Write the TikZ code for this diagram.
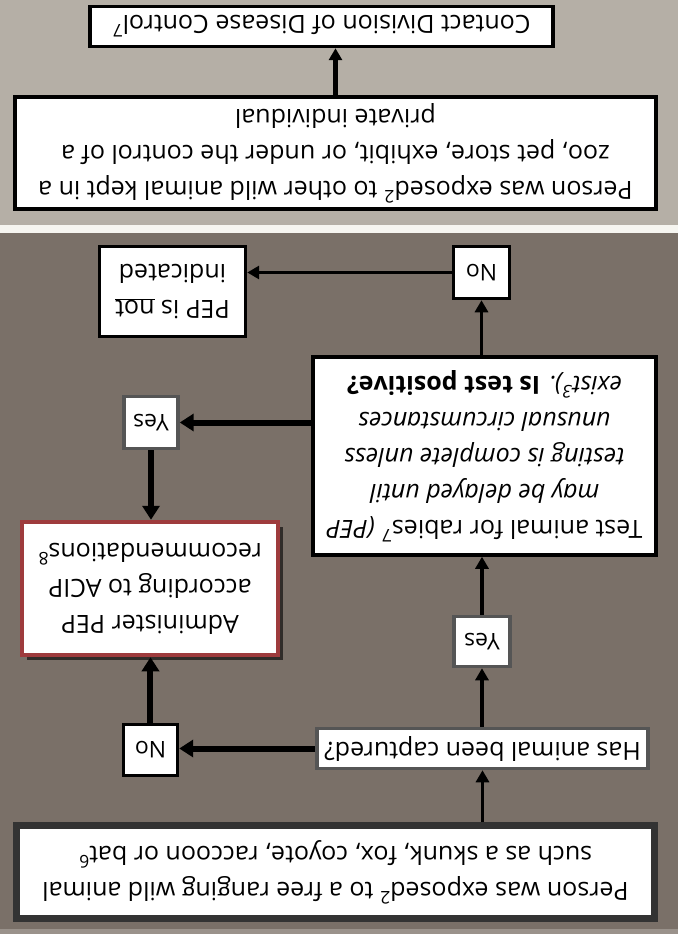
\documentclass[tikz,border=0pt]{standalone}
\usepackage{fontspec}
\setmainfont{Open Sans}
\usetikzlibrary{arrows.meta,shadows}
\definecolor{bandlight}{HTML}{B5AFA6}
\definecolor{banddark}{HTML}{7A7068}
\definecolor{bandstrip}{HTML}{F6F5F0}
\definecolor{bandfoot}{HTML}{9A928B}
\definecolor{boxgray}{HTML}{555555}
\definecolor{boxdark}{HTML}{333333}
\definecolor{pepred}{HTML}{9E3B3D}

\begin{document}
\begin{tikzpicture}[x=1pt,y=1pt,rotate=180,transform shape,
    every node/.style={fill=white,align=center,inner sep=2pt,font=\fontsize{25}{36}\selectfont},
    blackbox/.style={draw=black,line width=3.5pt},
    graybox/.style={draw=boxgray,line width=3.5pt},
    startbox/.style={draw=boxdark,line width=7pt},
    pepbox/.style={draw=pepred,line width=4.5pt,
      drop shadow={shadow xshift=5pt,shadow yshift=-5pt,fill=black,opacity=.6}},
    answer/.style={font=\fontsize{23}{28}\selectfont},
    thinarrow/.style={-{Triangle[length=12pt,width=13pt]},line width=3.5pt},
    thickarrow/.style={-{Triangle[length=14pt,width=17pt]},line width=6pt}]
    \useasboundingbox (0,0) rectangle (678,934);
    % background bands
    \fill[bandlight] (0,0) rectangle (678,225);
    \fill[bandstrip] (0,225) rectangle (678,233);
    \fill[banddark] (0,233) rectangle (678,934);
    \fill[bandfoot] (0,929) rectangle (678,934);
    % boxes
    \node[startbox,minimum width=638,minimum height=93] (free) at (342.5,872)
      {Person was exposed\textsuperscript{2} to a free ranging wild animal\\
       such as a skunk, fox, coyote, raccoon or bat\textsuperscript{6}};
    \node[graybox,minimum width=331,minimum height=40] (captured) at (195.5,748.5)
      {Has animal been captured?};
    \node[blackbox,answer,minimum width=54,minimum height=51] (nolow) at (527.5,750) {No};
    \node[graybox,answer,minimum width=56,minimum height=50] (yeslow) at (196,641.5) {Yes};
    \node[pepbox,minimum width=256,minimum height=133] (admin) at (528,588.5)
      {Administer PEP\\ according to ACIP\\ recommendations\textsuperscript{8}};
    \node[blackbox,minimum width=343,minimum height=198] (test) at (193.5,456)
      {Test animal for rabies\textsuperscript{7} \textit{(PEP}\\
       \textit{may be delayed until}\\
       \textit{testing is complete unless}\\
       \textit{unusual circumstances}\\
       \textit{exist\textsuperscript{3}).} \textbf{Is test positive?}};
    \node[graybox,answer,minimum width=54,minimum height=52] (yesup) at (527,422.5) {Yes};
    \node[blackbox,answer,minimum width=56,minimum height=52] (notop) at (196.5,272.5) {No};
    \node[blackbox,minimum width=146,minimum height=90] (pepnot) at (505.5,291.5)
      {PEP is \underline{not}\\ indicated};
    \node[blackbox,minimum width=641,minimum height=112] (zoo) at (342.5,153)
      {Person was exposed\textsuperscript{2} to other wild animal kept in a\\
       zoo, pet store, exhibit, or under the control of a\\
       private individual};
    \node[blackbox,minimum width=463,minimum height=40] (contact) at (356.5,26.5)
      {Contact Division of Disease Control\textsuperscript{7}};
    % connectors
    \draw[thinarrow] (captured |- free.south) -- (captured.north);
    \draw[thickarrow] (captured.east) -- (captured.east -| nolow.west);
    \draw[thickarrow] (nolow.south) -- (nolow.south |- admin.north);
    \draw[thinarrow] (yeslow |- captured.south) -- (yeslow.north);
    \draw[thinarrow] (yeslow.south) -- (yeslow.south |- test.north);
    \draw[thickarrow] (test.east |- yesup) -- (yesup.west);
    \draw[thickarrow] (yesup.north) -- (yesup.north |- admin.south);
    \draw[thinarrow] (notop |- test.south) -- (notop.north);
    \draw[thinarrow] (notop.east) -- (notop.east -| pepnot.west);
    \draw[thinarrow,line width=4.5pt] (zoo.south) -- (zoo.south |- contact.north);
\end{tikzpicture}
\end{document}
